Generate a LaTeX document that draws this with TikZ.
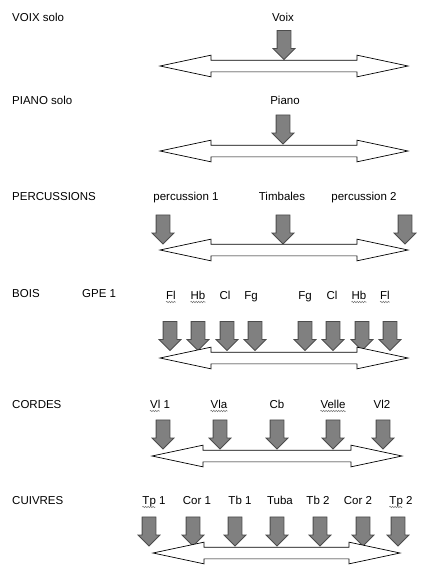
\documentclass[tikz,border=0pt]{standalone}
\usepackage{fontspec}
\setmainfont{Liberation Sans}
\usetikzlibrary{shapes.arrows,decorations.pathmorphing}
\tikzset{
  lbl/.style={font=\fontsize{11.5}{13}\selectfont, inner sep=0pt, text height=8.5pt, text depth=2.5pt},
  sec/.style={lbl, anchor=west},
  darr/.style={single arrow, draw=black!70, fill=black!50, line width=0.8pt,
    minimum height=29pt, minimum width=21pt, single arrow head extend=4pt,
    single arrow tip angle=90, shape border rotate=270, inner xsep=6.5pt, inner ysep=0pt},
  dbl/.style={double arrow, draw=black, fill=white, line width=0.7pt,
    minimum height=248pt, minimum width=21pt, double arrow head extend=5pt,
    double arrow tip angle=24, inner xsep=0pt, inner ysep=5.5pt},
  wavy/.style={draw=black!55, line width=0.5pt, decorate,
    decoration={snake, amplitude=0.7pt, segment length=2.5pt}},
}
\newcommand\wvfull[1]{\draw[wavy] ([yshift=-3pt]#1.base west) -- ([yshift=-3pt]#1.base east);}
\newcommand\wvpart[2]{\draw[wavy] ([yshift=-3pt]#1.base west) -- ([yshift=-3pt,xshift=#2]#1.base west);}
\begin{document}
\begin{tikzpicture}[x=1pt,y=-1pt]
\useasboundingbox (0,0) rectangle (423,574);
% Row 1
\node[sec] (s1) at (12,18) {VOIX solo};
\node[lbl] (l11) at (283,18) {Voix};
\node[darr] (a11) at (284,41.5) {};
\node[dbl] (d1) at (284,66) {};
% Row 2
\node[sec] (s2) at (12,101) {PIANO solo};
\node[lbl] (l21) at (285,101) {Piano};
\node[darr] (a21) at (283,126) {};
\node[dbl] (d2) at (284,151) {};
% Row 3
\node[sec] (s3) at (12,197) {PERCUSSIONS};
\node[lbl] (l31) at (186,197) {percussion 1};
\node[lbl] (l32) at (282,197) {Timbales};
\node[lbl] (l33) at (364,197) {percussion 2};
\node[darr] (a31) at (163,226) {};
\node[darr] (a32) at (283,226) {};
\node[darr] (a33) at (405,226) {};
\node[dbl] (d3) at (284,250) {};
% Row 4
\node[sec] (s4) at (12,294) {BOIS};
\node[sec] (g4) at (82,294) {GPE 1};
\node[lbl] (l41) at (171,296) {Fl};
\node[lbl] (l42) at (198,296) {Hb};
\node[lbl] (l43) at (225,296) {Cl};
\node[lbl] (l44) at (251,296) {Fg};
\node[lbl] (l45) at (305,296) {Fg};
\node[lbl] (l46) at (332,296) {Cl};
\node[lbl] (l47) at (359,296) {Hb};
\node[lbl] (l48) at (385,296) {Fl};
\wvfull{l41}\wvfull{l42}\wvfull{l47}\wvfull{l48}
\foreach \n/\x in {1/170,2/198,3/227,4/255,5/305,6/333,7/362,8/390}
  \node[darr] (a4\n) at (\x,332.5) {};
\node[dbl] (d4) at (284,358) {};
% Row 5
\node[sec] (s5) at (12,405) {CORDES};
\node[lbl] (l51) at (160,405) {Vl 1};
\node[lbl] (l52) at (219,405) {Vla};
\node[lbl] (l53) at (277,405) {Cb};
\node[lbl] (l54) at (333,405) {Velle};
\node[lbl] (l55) at (382,405) {Vl2};
\wvpart{l51}{10pt}\wvfull{l52}\wvfull{l54}
\foreach \n/\x in {1/163,2/220,3/277,4/333,5/383}
  \node[darr] (a5\n) at (\x,431) {};
\node[dbl, minimum height=250pt] (d5) at (277,456) {};
% Row 6
\node[sec] (s6) at (12,501) {CUIVRES};
\node[lbl] (l61) at (154,501) {Tp 1};
\node[lbl] (l62) at (197,501) {Cor 1};
\node[lbl] (l63) at (240,501) {Tb 1};
\node[lbl] (l64) at (280,501) {Tuba};
\node[lbl] (l65) at (318,501) {Tb 2};
\node[lbl] (l66) at (358,501) {Cor 2};
\node[lbl] (l67) at (401,501) {Tp 2};
\wvpart{l61}{13pt}\wvpart{l67}{13pt}
\foreach \n/\x in {1/149,2/193,3/235,4/277,5/320,6/363,7/398}
  \node[darr] (a6\n) at (\x,528) {};
\node[dbl, minimum height=247pt] (d6) at (276.5,553) {};
\end{tikzpicture}
\end{document}
